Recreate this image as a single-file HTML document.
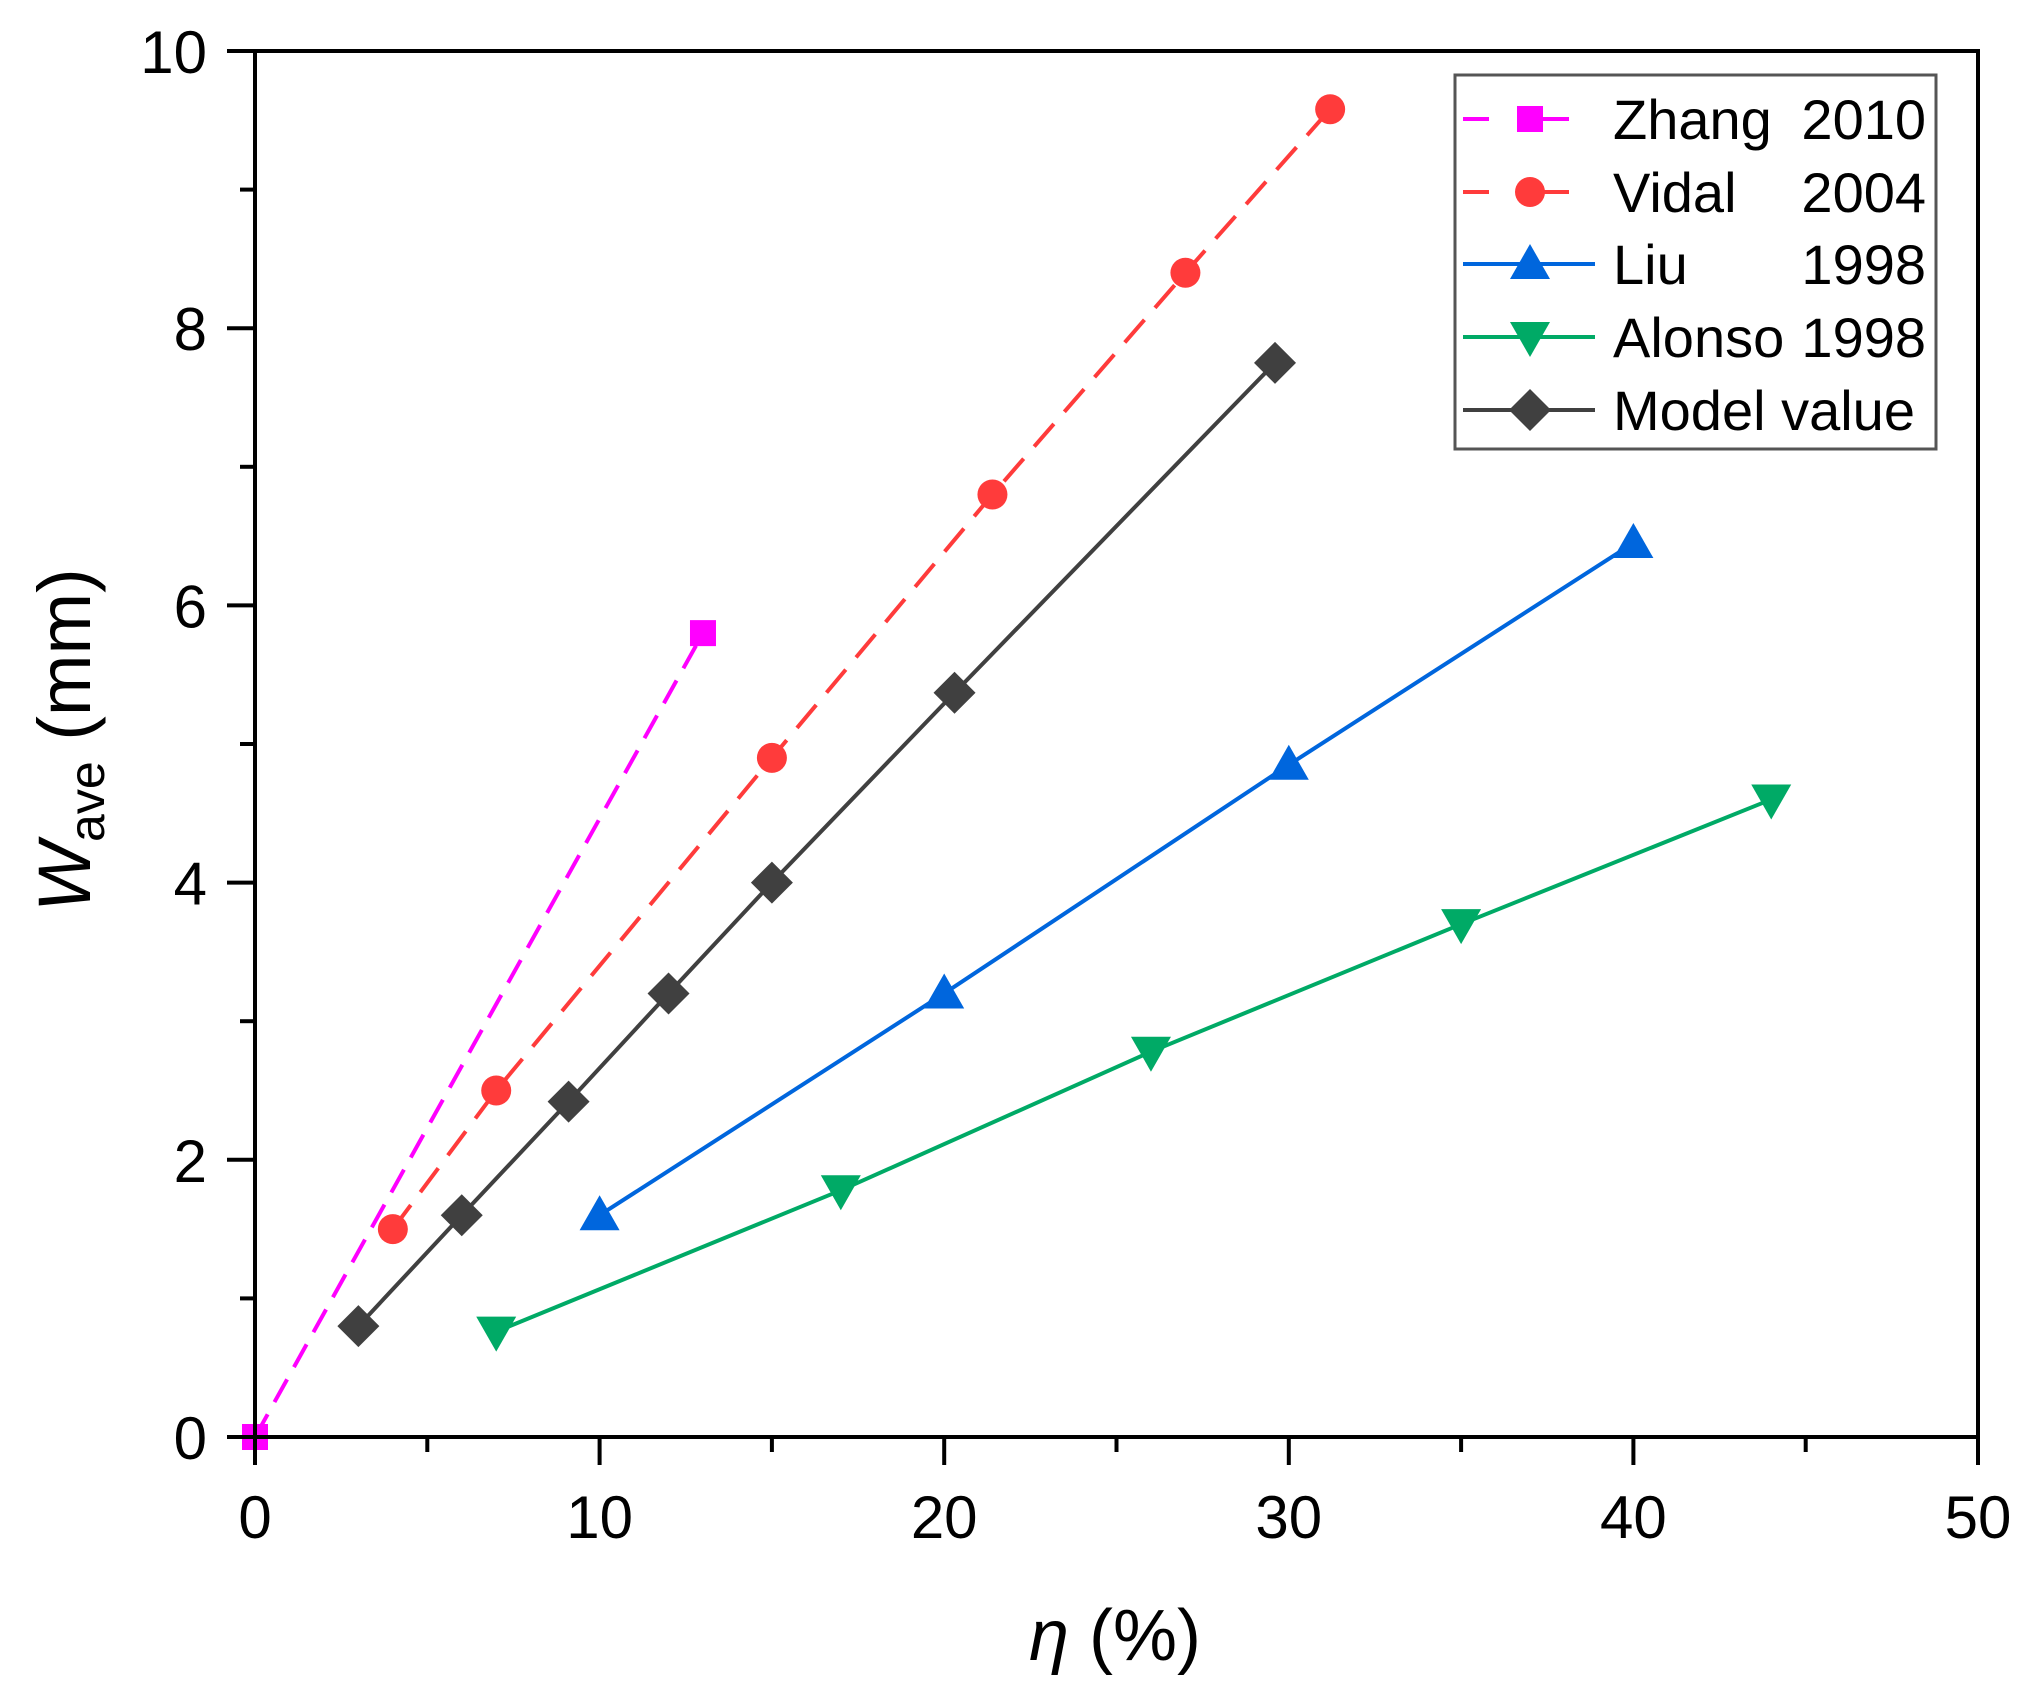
<!DOCTYPE html>
<html><head><meta charset="utf-8"><style>
html,body{margin:0;padding:0;background:#fff;}
svg{display:block;font-family:"Liberation Sans",Arial,sans-serif;}
</style></head><body>
<svg id="chart" width="2033" height="1691" viewBox="0 0 2033 1691" xmlns="http://www.w3.org/2000/svg">
<g id="plot"></g>
<g id="axes"></g>
<text x="1115" y="1660" font-size="72" text-anchor="middle"><tspan font-style="italic">η</tspan> (%)</text>
<text transform="translate(90,740) rotate(-90)" font-size="74" text-anchor="middle"><tspan font-style="italic">W</tspan><tspan font-size="50" dy="14">ave</tspan><tspan dy="-14"> (mm)</tspan></text>
<g id="legend"></g>
</svg>
<script>
const xTicks=[0,10,20,30,40,50];
const yTicks=[0,2,4,6,8,10];
const zhangX=[0,13];
const zhangY=[0,5.8];
const vidalX=[4,7,15,21.4,27,31.2];
const vidalY=[1.5,2.5,4.9,6.8,8.4,9.58];
const liuX=[10,20,30,40];
const liuY=[1.6,3.2,4.85,6.45];
const alonsoX=[7,17,26,35,44];
const alonsoY=[0.76,1.78,2.78,3.7,4.6];
const modelX=[3,6,9.1,12,15,20.3,29.6];
const modelY=[0.8,1.6,2.42,3.2,4.0,5.37,7.75];
const seriesNames=["Zhang","Vidal","Liu","Alonso","Model value"];
const seriesYears=["2010","2004","1998","1998",""];

const NS="http://www.w3.org/2000/svg";
const X0=255,X1=1978,Y0=1437,Y1=51;
const sx=v=>X0+(v-0)/(50-0)*(X1-X0);
const sy=v=>Y0-(v-0)/(10-0)*(Y0-Y1);
function mk(tag,attrs,parent){const e=document.createElementNS(NS,tag);for(const k in attrs)e.setAttribute(k,attrs[k]);parent.appendChild(e);return e;}
const plot=document.getElementById('plot'),axes=document.getElementById('axes'),leg=document.getElementById('legend');

function marker(type,cx,cy,color,parent){
  let e;
  if(type==='square'){e=mk('rect',{x:cx-13,y:cy-13,width:26,height:26,fill:color},parent);}
  else if(type==='circle'){e=mk('circle',{cx:cx,cy:cy,r:15,fill:color},parent);}
  else if(type==='up'){e=mk('polygon',{points:`${cx},${cy-20} ${cx-20},${cy+15} ${cx+20},${cy+15}`,fill:color},parent);}
  else if(type==='down'){e=mk('polygon',{points:`${cx},${cy+20} ${cx-20},${cy-15} ${cx+20},${cy-15}`,fill:color},parent);}
  else {e=mk('polygon',{points:`${cx},${cy-21} ${cx+21},${cy} ${cx},${cy+21} ${cx-21},${cy}`,fill:color},parent);}
  return e;
}
const series=[
 {xs:zhangX,ys:zhangY,color:'#ff00ff',dash:'26 14',m:'square',key:'zhang'},
 {xs:vidalX,ys:vidalY,color:'#ff3b3b',dash:'30 16',m:'circle',key:'vidal'},
 {xs:liuX,ys:liuY,color:'#0066dd',dash:'',m:'up',key:'liu'},
 {xs:alonsoX,ys:alonsoY,color:'#00aa66',dash:'',m:'down',key:'alonso'},
 {xs:modelX,ys:modelY,color:'#404040',dash:'',m:'diamond',key:'model'}
];
series.forEach(s=>{
  const g=mk('g',{},plot);
  
  
  const pts=s.xs.map((x,i)=>sx(x)+','+sy(s.ys[i])).join(' ');
  const pl=mk('polyline',{points:pts,fill:'none',stroke:s.color,'stroke-width':4,'stroke-dasharray':s.dash},g);
  
  
  s.xs.forEach((x,i)=>{
    const m=marker(s.m,sx(x),sy(s.ys[i]),s.color,g);
    
    
  });
});
const fr=mk('rect',{x:X0,y:Y1,width:X1-X0,height:Y0-Y1,fill:'none',stroke:'#000','stroke-width':4},axes);


xTicks.forEach((t,i)=>{
  const x=sx(t);
  mk('line',{x1:x,y1:Y0,x2:x,y2:Y0+28,stroke:'#000','stroke-width':4},axes);
  if(i<xTicks.length-1){const xm=sx(t+5);mk('line',{x1:xm,y1:Y0,x2:xm,y2:Y0+15,stroke:'#000','stroke-width':4},axes);}
  const tx=mk('text',{x:x,y:1538,'font-size':60,'text-anchor':'middle'},axes);
  tx.textContent=t;
  
  
});
yTicks.forEach((t,i)=>{
  const y=sy(t);
  mk('line',{x1:X0-28,y1:y,x2:X0,y2:y,stroke:'#000','stroke-width':4},axes);
  if(i<yTicks.length-1){const ym=sy(t+1);mk('line',{x1:X0-15,y1:ym,x2:X0,y2:ym,stroke:'#000','stroke-width':4},axes);}
  const tx=mk('text',{x:207,y:y+22,'font-size':60,'text-anchor':'end'},axes);
  tx.textContent=t;
  
  
});
const lb=mk('rect',{x:1455,y:75,width:481,height:374,fill:'#fff',stroke:'#555','stroke-width':3},leg);


const rowY=[119,192,264,337,410];
series.forEach((s,i)=>{
  const y=rowY[i];
  const g=mk('g',{},leg);
  
  
  mk('line',{x1:1463,y1:y,x2:1595,y2:y,stroke:s.color,'stroke-width':4,'stroke-dasharray':s.dash?'26 54':''},g);
  marker(s.m,1530,y,s.color,g);
  const t=mk('text',{x:1613,y:y+20,'font-size':56},g);
  t.textContent=seriesNames[i];
  if(seriesYears[i]){const t2=mk('text',{x:1926,y:y+20,'font-size':56,'text-anchor':'end'},g);t2.textContent=seriesYears[i];}
});
</script>
</body></html>
